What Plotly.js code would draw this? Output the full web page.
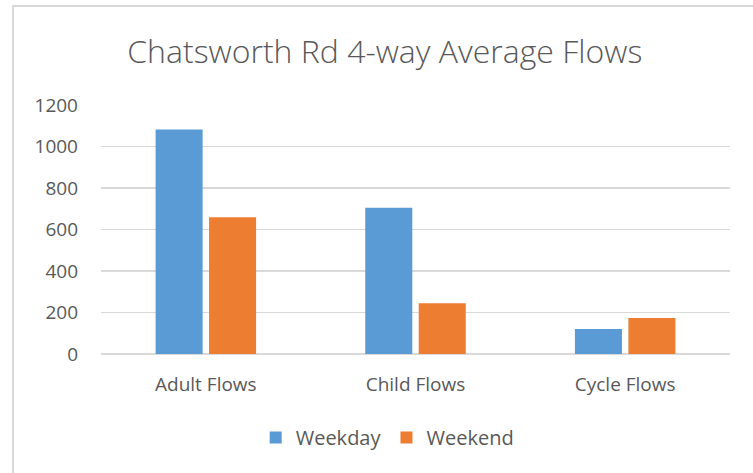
<!DOCTYPE html>
<html><head><meta charset="utf-8">
<script src="https://cdn.plot.ly/plotly-3.0.1.min.js"></script>
<style>
html,body{margin:0;padding:0;background:#fff;}
#wrap{position:relative;width:753px;height:473px;}
#chart{position:absolute;left:0;top:0;width:753px;height:473px;}
#frame{position:absolute;left:12px;top:5px;width:741px;height:468px;border-left:2px solid #d9d9d9;border-top:2px solid #d9d9d9;box-sizing:border-box;pointer-events:none;}
</style>
</head><body>
<div id="wrap"><div id="chart"></div><div id="frame"></div></div>
<script>
const categories = ["Adult Flows", "Child Flows", "Cycle Flows"];
const weekday = [1082, 705, 120];
const weekend = [659, 245, 173];
const seriesNames = ["Weekday", "Weekend"];
const yTicks = [0, 200, 400, 600, 800, 1000, 1200];

const font = "'Open Sans', sans-serif";
const traces = [
  {type: "bar", name: seriesNames[0], x: categories, y: weekday, marker: {color: "#5b9bd5"}},
  {type: "bar", name: seriesNames[1], x: categories, y: weekend, marker: {color: "#ed7d31"}}
];
const layout = {
  width: 753, height: 473,
  margin: {l: 101, r: 23, t: 105, b: 119, autoexpand: false},
  paper_bgcolor: "rgba(0,0,0,0)", plot_bgcolor: "#fff",
  barmode: "group", bargap: 0.49, bargroupgap: 0.12,
  font: {family: font, color: "#595959", size: 16},
  title: {text: "Chatsworth Rd 4-way Average Flows", x: 0.511, xref: "container", y: 1 - 52/473, yref: "container", xanchor: "center", yanchor: "middle",
          font: {family: font, size: 32, color: "#595959", weight: 300}},
  xaxis: {type: "category", automargin: false, tickangle: 0, showgrid: false, zeroline: false, showline: false, ticks: "", ticklabelstandoff: 17, tickfont: {size: 19, color: "#595959"}},
  yaxis: {range: [0, 1200], automargin: false, tickvals: yTicks, ticktext: yTicks.map(String), showgrid: true, gridcolor: "#d9d9d9", gridwidth: 1.5,
          zeroline: true, zerolinecolor: "#d9d9d9", zerolinewidth: 1.5, showline: false, ticks: "", ticklabelstandoff: 22, tickfont: {size: 19, color: "#595959"}},
  showlegend: true,
  legend: {orientation: "h", x: 0.455, xanchor: "center", y: -0.335, yanchor: "middle", font: {size: 20, color: "#595959"}, traceorder: "normal"}
};
Plotly.newPlot("chart", traces, layout, {displayModeBar: false, staticPlot: true});
</script>
</body></html>
